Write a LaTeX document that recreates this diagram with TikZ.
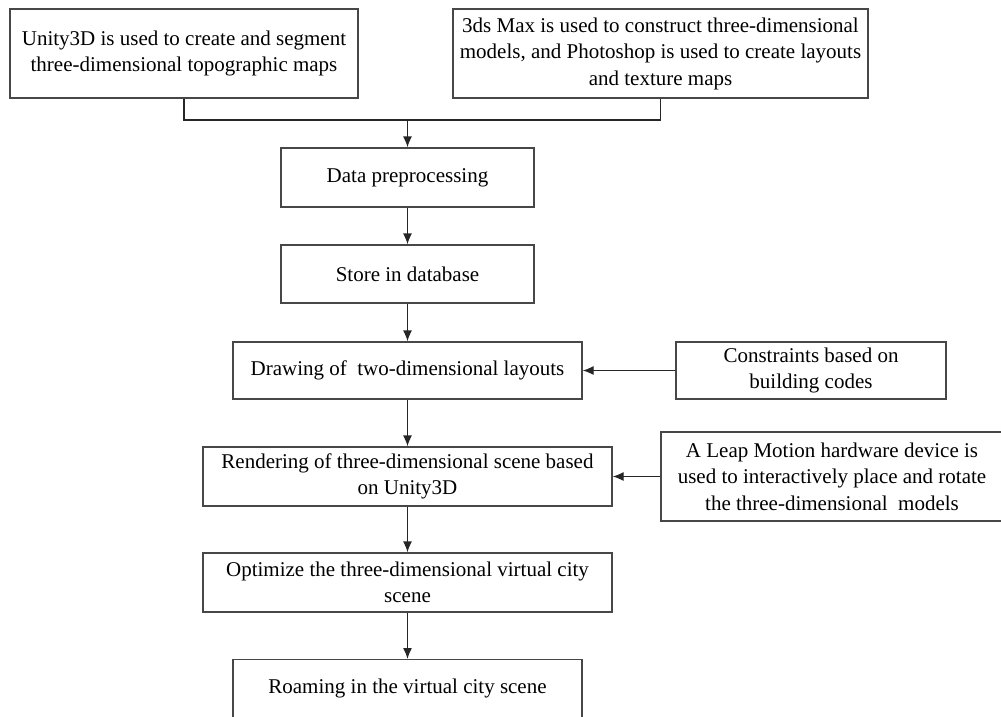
\documentclass[tikz,border=0pt]{standalone}
\usepackage{fontspec}
\setmainfont{Liberation Serif}
\usetikzlibrary{arrows.meta}
\begin{document}
\begin{tikzpicture}[x=1pt,y=-1pt,
  box/.style={draw=black!72, line width=1.3pt, rectangle, align=center, inner sep=0pt,
    font=\fontsize{21}{26.5}\selectfont, text=black},
  conn/.style={draw=black!85, line width=1.3pt},
  arr/.style={conn, -{Latex[length=11pt,width=9pt]}}]
\useasboundingbox (0,0) rectangle (1001,716);
\node[box, minimum width=348pt, minimum height=89pt] (b1) at (184,53.5)
  {Unity3D is used to create and segment\\three-dimensional topographic maps};
\node[box, minimum width=415pt, minimum height=89pt] (b2) at (660.5,53.5)
  {3ds Max is used to construct three-dimensional\\models, and Photoshop is used to create layouts\\and texture maps};
\node[box, minimum width=253pt, minimum height=59pt] (dp) at (407.5,177.5) {Data preprocessing};
\node[box, minimum width=253pt, minimum height=58pt] (sd) at (407.5,274) {Store in database};
\node[box, minimum width=349pt, minimum height=57pt] (dr) at (407.5,370.5) {Drawing of\ \ two-dimensional layouts};
\node[box, minimum width=270pt, minimum height=57pt] (cn) at (811,370.5) {Constraints based on\\building codes};
\node[box, minimum width=409pt, minimum height=59pt] (rd) at (407.5,476.5) {Rendering of three-dimensional scene based\\on Unity3D};
\node[box, minimum width=342pt, minimum height=89pt] (lm) at (832,476.5) {A Leap Motion hardware device is\\used to interactively place and rotate\\the three-dimensional\ \ models};
\node[box, minimum width=409pt, minimum height=59pt] (op) at (407.5,582.5) {Optimize the three-dimensional virtual city\\scene};
\node[box, minimum width=349pt, minimum height=59pt, anchor=north] (rm) at (407.5,659) {};
\node[font=\fontsize{21}{26.5}\selectfont] (rmt) at (407.5,688) {Roaming in the virtual city scene};
\coordinate (j) at (407.5,120);
\draw[conn] (b1.south) |- (j) -| (b2.south);
\draw[arr] (j) -- (dp.north);
\draw[arr] (dp) -- (sd);
\draw[arr] (sd) -- (dr);
\draw[arr] (cn) -- (dr);
\draw[arr] (dr) -- (rd);
\draw[arr] (lm) -- (rd);
\draw[arr] (rd) -- (op);
\draw[arr] (op) -- (rm);
\end{tikzpicture}
\end{document}
